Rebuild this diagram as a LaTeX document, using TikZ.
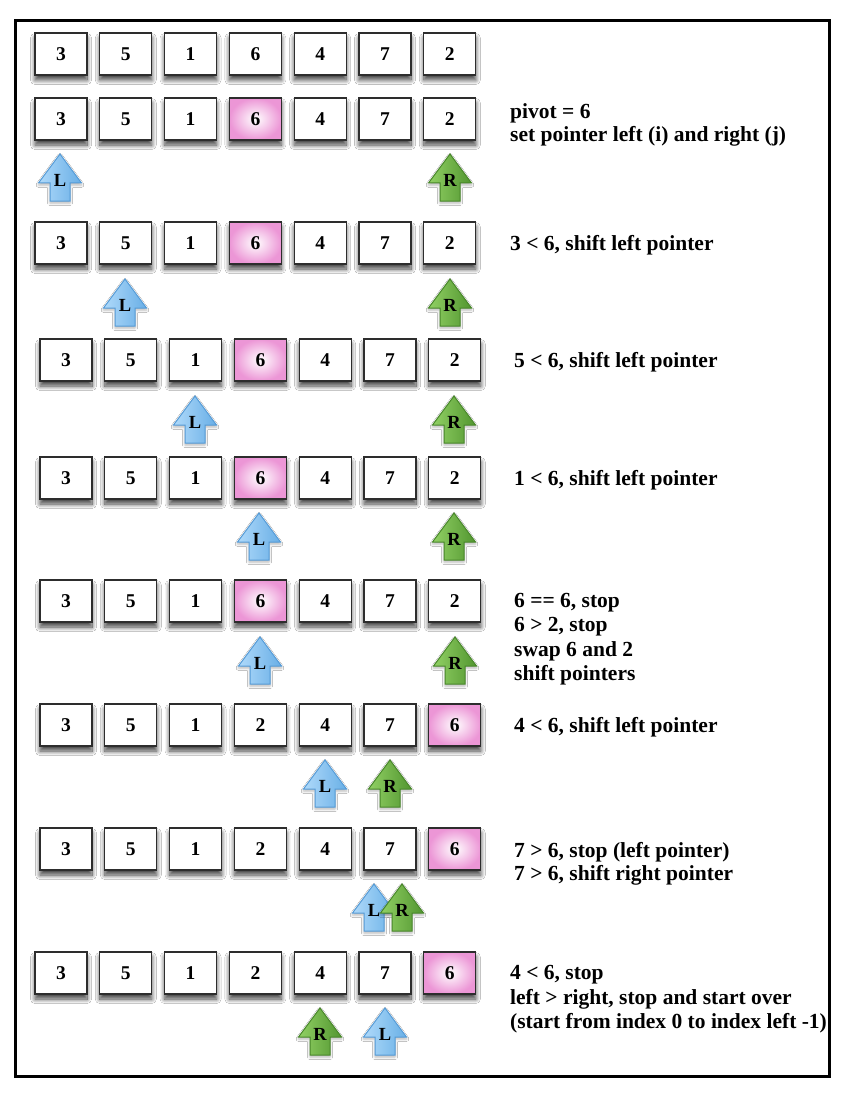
\documentclass[tikz,border=0pt]{standalone}
\usepackage{fontspec}
\setmainfont{Liberation Serif}
\usetikzlibrary{shadows.blur}
\definecolor{pinkout}{RGB}{236,150,214}
\definecolor{blueL}{RGB}{175,218,250}
\definecolor{blueR}{RGB}{105,175,230}
\definecolor{blueD}{RGB}{85,155,215}
\definecolor{greenL}{RGB}{145,208,100}
\definecolor{greenR}{RGB}{82,150,48}
\definecolor{greenD}{RGB}{72,135,42}
\definecolor{cellborder}{RGB}{45,45,45}
\newcommand\pointer[5]{%
  \path[#5, shift={(#2,#3)}] (0,-24) -- (21.5,5) -- (10,5) -- (10,23) -- (-10,23) -- (-10,5) -- (-21.5,5) -- cycle;
  \node[ptrtext] (#1) at (#2,#3+2) {#4};}
\begin{document}
\begin{tikzpicture}[x=1pt,y=-1pt,
  cell/.style={draw=cellborder, line width=1.3pt, fill=white, minimum width=52pt, minimum height=42pt,
    inner sep=0pt, font=\fontsize{19.5}{19.5}\selectfont\bfseries,
    blur shadow={shadow xshift=0pt, shadow yshift=-5pt, shadow opacity=75, shadow blur radius=4.5pt, shadow blur steps=12}},
  pivotcell/.style={cell, inner color=white, outer color=pinkout},
  ptrL/.style={draw=blueD, line width=1pt, left color=blueL, right color=blueR,
    blur shadow={shadow xshift=0pt, shadow yshift=-2pt, shadow opacity=30, shadow blur radius=2.5pt}},
  ptrR/.style={draw=greenD, line width=1pt, left color=greenL, right color=greenR,
    blur shadow={shadow xshift=0pt, shadow yshift=-2pt, shadow opacity=30, shadow blur radius=2.5pt}},
  ptrtext/.style={inner sep=0pt, font=\fontsize{18.5}{18.5}\selectfont\bfseries},
  note/.style={anchor=base west, inner sep=0pt, font=\fontsize{21.5}{24}\selectfont\bfseries}]
\useasboundingbox (0,0) rectangle (842,1094);
\fill[white] (0,0) rectangle (842,1094);
\draw[line width=3pt] (15,21) rectangle (829,1076);
% rows of cells
\foreach \r/\yy/\xx/\p/\vals in {
  1/54/61/0/{3,5,1,6,4,7,2},
  2/119/61/4/{3,5,1,6,4,7,2},
  3/243/61/4/{3,5,1,6,4,7,2},
  4/360/66/4/{3,5,1,6,4,7,2},
  5/478/66/4/{3,5,1,6,4,7,2},
  6/601/66/4/{3,5,1,6,4,7,2},
  7/725/66/7/{3,5,1,2,4,7,6},
  8/849/66/7/{3,5,1,2,4,7,6},
  9/973/61/7/{3,5,1,2,4,7,6}}{
  \foreach \v [count=\c] in \vals {
    \ifnum\c=\p\relax\def\sty{pivotcell}\else\def\sty{cell}\fi
    \node[\sty] (r\r-\c) at ({\xx+(\c-1)*64.8},\yy) {\v};
  }
}
% pointers
\pointer{p2L}{60}{178}{L}{ptrL}
\pointer{p2R}{450}{178}{R}{ptrR}
\pointer{p3L}{125}{303}{L}{ptrL}
\pointer{p3R}{450}{303}{R}{ptrR}
\pointer{p4L}{195}{420}{L}{ptrL}
\pointer{p4R}{454}{420}{R}{ptrR}
\pointer{p5L}{259}{537}{L}{ptrL}
\pointer{p5R}{454}{537}{R}{ptrR}
\pointer{p6L}{260}{661}{L}{ptrL}
\pointer{p6R}{455}{661}{R}{ptrR}
\pointer{p7L}{325}{784}{L}{ptrL}
\pointer{p7R}{390}{784}{R}{ptrR}
\pointer{p8L}{374}{908}{L}{ptrL}
\pointer{p8R}{402}{908}{R}{ptrR}
\pointer{p9R}{320}{1032}{R}{ptrR}
\pointer{p9L}{385}{1032}{L}{ptrL}
% notes
\node[note] (t2a) at (510,119) {pivot = 6};
\node[note] (t2b) at (510,142) {set pointer left (i) and right (j)};
\node[note] (t3a) at (510,250) {3 < 6, shift left pointer};
\node[note] (t4a) at (514,367) {5 < 6, shift left pointer};
\node[note] (t5a) at (514,485) {1 < 6, shift left pointer};
\node[note] (t6a) at (514,607) {6 == 6, stop};
\node[note] (t6b) at (514,631) {6 > 2, stop};
\node[note] (t6c) at (514,656) {swap 6 and 2};
\node[note] (t6d) at (514,680) {shift pointers};
\node[note] (t7a) at (514,732) {4 < 6, shift left pointer};
\node[note] (t8a) at (514,857) {7 > 6, stop (left pointer)};
\node[note] (t8b) at (514,880) {7 > 6, shift right pointer};
\node[note] (t9a) at (510,979) {4 < 6, stop};
\node[note] (t9b) at (510,1004) {left > right, stop and start over};
\node[note] (t9c) at (510,1028) {(start from index 0 to index left -1)};
\end{tikzpicture}
\end{document}
